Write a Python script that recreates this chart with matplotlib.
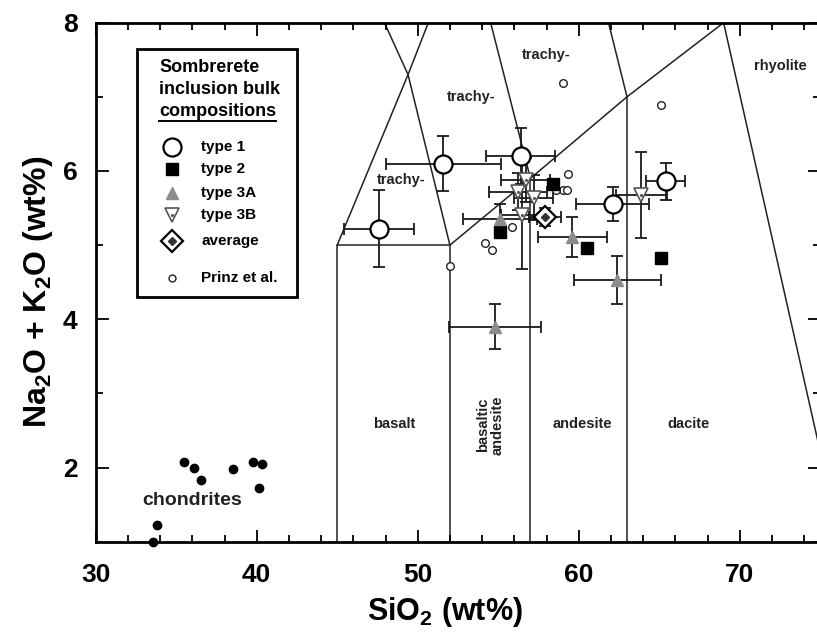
import numpy as np
import matplotlib
matplotlib.use("Agg")
import matplotlib.pyplot as plt
from matplotlib.patches import Rectangle
from matplotlib.ticker import MultipleLocator

plt.rcParams['font.family'] = ['Liberation Sans', 'DejaVu Sans']
plt.rcParams['font.weight'] = 'bold'
plt.rcParams['axes.labelweight'] = 'bold'
plt.rcParams['mathtext.fontset'] = 'custom'
plt.rcParams['mathtext.rm'] = 'Liberation Sans:bold'
plt.rcParams['mathtext.default'] = 'rm'

# ---- data ----
type1_x = [47.6, 51.6, 56.4, 62.1, 65.4]
type1_y = [5.22, 6.10, 6.20, 5.55, 5.86]
type1_xerr = [2.2, 3.6, 2.15, 2.25, 1.2]
type1_yerr = [0.52, 0.37, 0.38, 0.23, 0.25]

type2_x = [58.4, 55.1, 60.5, 65.1]
type2_y = [5.83, 5.18, 4.96, 4.82]

type3a_x = [55.1, 59.6, 62.4, 54.8]
type3a_y = [5.35, 5.11, 4.53, 3.90]
type3a_xerr = [2.3, 2.15, 2.7, 2.85]
type3a_yerr = [0.2, 0.27, 0.33, 0.3]

type3b_x = [56.7, 56.2, 57.2, 56.5, 63.9]
type3b_y = [5.88, 5.72, 5.64, 5.40, 5.68]
type3b_xerr = [1.5, 1.8, 1.2, 1.3, 1.6]
type3b_yerr = [0.3, 0.25, 0.3, 0.72, 0.58]

avg_x = [57.9]
avg_y = [5.38]
avg_xerr = [1.0]
avg_yerr = [0.12]

prinz_x = [59.0, 65.1, 59.35, 59.0, 58.6, 59.25, 55.85, 54.2, 54.6, 52.0]
prinz_y = [7.19, 6.89, 5.96, 5.75, 5.74, 5.74, 5.25, 5.03, 4.93, 4.72]

chond_x = [35.5, 36.1, 36.55, 38.5, 39.75, 40.35, 40.15, 33.8, 33.55]
chond_y = [2.07, 2.00, 1.83, 1.98, 2.08, 2.05, 1.72, 1.22, 1.00]

# TAS field boundaries (SiO2, alkalis)
tas_lines = [
    ([45, 45, 52, 52], [0, 5, 5, 0]),
    ([52, 57, 63, 69], [5, 5.9, 7, 8]),
    ([57, 57], [0, 5.9]),
    ([63, 63], [0, 7]),
    ([69, 77.3], [8, 0]),
    ([45, 49.4, 53], [5, 7.3, 9.3]),
    ([52, 49.4, 45], [5, 7.3, 9.4]),
    ([57, 53], [5.9, 9.3]),
    ([63, 57.6], [7, 11.7]),
]

field_names = ["basalt", "andesite", "dacite", "trachy-", "trachy-", "trachy-", "rhyolite"]
field_x = [48.55, 60.2, 66.8, 49.0, 53.3, 58.0, 72.5]
field_y = [2.59, 2.59, 2.59, 5.88, 7.0, 7.57, 7.42]

W, H = 817, 637
fig = plt.figure(figsize=(W / 100, H / 100), dpi=100)
left, bottom, right, top = 95.7, 541.7, 95.7 + 45 * 16.1, 22.7
ax = fig.add_axes([left / W, 1 - bottom / H, (right - left) / W, (bottom - top) / H])

for xs, ys in tas_lines:
    ax.plot(xs, ys, color='#222222', lw=1.1, zorder=1)

for n, x, y in zip(field_names, field_x, field_y):
    ax.text(x, y, n, ha='center', va='center', fontsize=10.5, color='#222222')
ax.text(54.5, 2.57, "basaltic\nandesite", rotation=90, ha='center', va='center',
        fontsize=10.5, color='#222222', linespacing=1.0)
ax.text(36.0, 1.56, "chondrites", ha='center', va='center', fontsize=14, color='#222222')

eb = dict(fmt='none', ecolor='#1a1a1a', elinewidth=1.3, capsize=4.5, capthick=1.3, zorder=2)
ax.errorbar(type1_x, type1_y, xerr=type1_xerr, yerr=type1_yerr, **eb)
ax.errorbar(type3a_x, type3a_y, xerr=type3a_xerr, yerr=type3a_yerr, **eb)
ax.errorbar(type3b_x, type3b_y, xerr=type3b_xerr, yerr=type3b_yerr, **eb)
ax.errorbar(avg_x, avg_y, xerr=avg_xerr, yerr=avg_yerr, **eb)

ax.plot(prinz_x, prinz_y, 'o', ms=5.5, mfc='white', mec='#222222', mew=1.0, ls='none', zorder=3)
ax.plot(type1_x, type1_y, 'o', ms=13, mfc='white', mec='black', mew=1.6, ls='none', zorder=4)
ax.plot(type2_x, type2_y, 's', ms=8.5, mfc='black', mec='black', ls='none', zorder=4)
ax.plot(type3a_x, type3a_y, '^', ms=9, mfc='#8c8c8c', mec='#8c8c8c', ls='none', zorder=4)
ax.plot(type3b_x, type3b_y, 'v', ms=10, mfc='white', mec='#555555', mew=1.2, ls='none', zorder=4)
ax.plot(type3b_x, type3b_y, '.', ms=2.5, color='#555555', ls='none', zorder=5)
ax.plot(avg_x, avg_y, 'D', ms=11, mfc='white', mec='black', mew=1.6, ls='none', zorder=4)
ax.plot(avg_x, avg_y, 'D', ms=4, mfc='#333333', mec='#333333', ls='none', zorder=5)
ax.plot(chond_x, chond_y, 'o', ms=6, color='black', ls='none', zorder=4, clip_on=False)

ax.set_xlim(30, 75)
ax.set_ylim(1, 8)
ax.xaxis.set_major_locator(MultipleLocator(10))
ax.xaxis.set_minor_locator(MultipleLocator(2))
ax.yaxis.set_major_locator(MultipleLocator(2))
ax.yaxis.set_minor_locator(MultipleLocator(1))
ax.tick_params(which='both', direction='in', top=True, right=True, width=1.3)
ax.tick_params(which='major', length=9, labelsize=19)
ax.tick_params(axis='x', which='major', pad=15)
ax.tick_params(axis='y', which='major', pad=13)
ax.tick_params(which='minor', length=5)
for s in ax.spines.values():
    s.set_linewidth(2)

ax.set_xlabel("SiO$_2$ (wt%)", fontsize=22)
ax.set_ylabel("Na$_2$O + K$_2$O (wt%)", fontsize=23)
ax.xaxis.set_label_coords((445 - left) / (right - left), (bottom - 612) / (bottom - top))
ax.xaxis.label.set_va('center')
ax.yaxis.set_label_coords((38 - left) / (right - left), (bottom - 292) / (bottom - top))
ax.yaxis.label.set_va('center')

# ---- hand-built legend box ----
def fx(px):
    return px / W

def fy(py):
    return 1 - py / H

fig.patches.append(Rectangle((fx(137), fy(297)), fx(297) - fx(137), fy(49) - fy(297),
                             transform=fig.transFigure, fill=True, facecolor='white',
                             edgecolor='black', lw=2, zorder=10))
for i, t in enumerate(["Sombrerete", "inclusion bulk", "compositions"]):
    fig.text(fx(159), fy(67 + 22.5 * i), t, ha='left', va='center', fontsize=13, zorder=11)
fig.add_artist(plt.Line2D([fx(159), fx(276)], [fy(121), fy(121)], color='black', lw=1.4, zorder=11))

leg_labels = ["type 1", "type 2", "type 3A", "type 3B", "average", "Prinz et al."]
leg_y = [147, 169, 193, 215, 241, 278]
mk = dict(transform=fig.transFigure, ls='none', zorder=12)
fig.add_artist(plt.Line2D([fx(172)], [fy(147)], marker='o', ms=13, mfc='white', mec='black', mew=1.6, **mk))
fig.add_artist(plt.Line2D([fx(172)], [fy(169)], marker='s', ms=8.5, mfc='black', mec='black', **mk))
fig.add_artist(plt.Line2D([fx(172)], [fy(193)], marker='^', ms=9, mfc='#8c8c8c', mec='#8c8c8c', **mk))
fig.add_artist(plt.Line2D([fx(172)], [fy(215)], marker='v', ms=10, mfc='white', mec='#555555', mew=1.2, **mk))
fig.add_artist(plt.Line2D([fx(172)], [fy(215)], marker='.', ms=2.5, color='#555555', **mk))
fig.add_artist(plt.Line2D([fx(172)], [fy(241)], marker='D', ms=11, mfc='white', mec='black', mew=1.6, **mk))
fig.add_artist(plt.Line2D([fx(172)], [fy(241)], marker='D', ms=4, mfc='#333333', mec='#333333', **mk))
fig.add_artist(plt.Line2D([fx(172)], [fy(278)], marker='o', ms=5, mfc='white', mec='#222222', mew=1.0, **mk))
for t, y in zip(leg_labels, leg_y):
    fig.text(fx(201), fy(y), t, ha='left', va='center', fontsize=11, zorder=12)

fig.savefig("out.png", dpi=100)
